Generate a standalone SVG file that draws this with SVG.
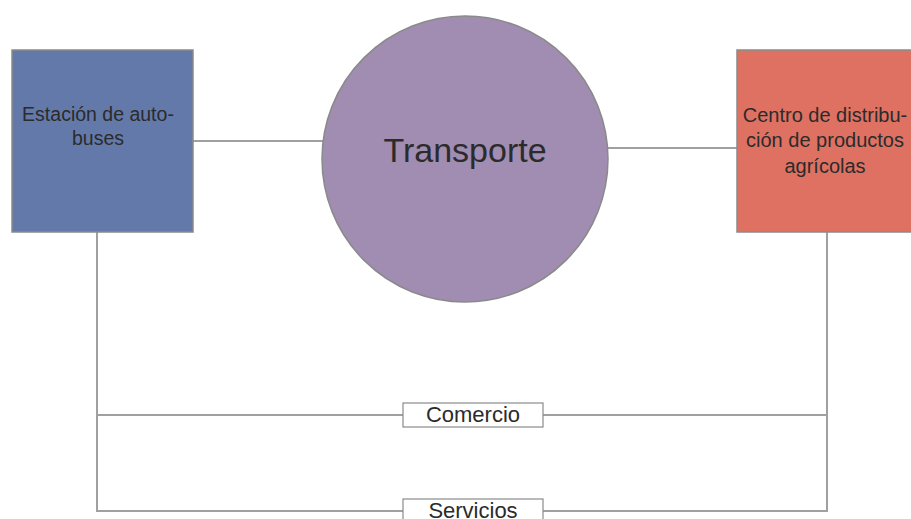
<svg xmlns="http://www.w3.org/2000/svg" width="911" height="519" viewBox="0 0 911 519">
<style>
.conn{stroke:#a0a0a0;stroke-width:2;fill:none}
.node{stroke:#8a8a8a;stroke-width:1.5}
.t{font-family:"Liberation Sans",Arial,sans-serif;fill:#2b2b2b;text-anchor:middle}
.lbl{fill:#ffffff;stroke:#8a8a8a;stroke-width:1.2}
</style>
<rect width="911" height="519" fill="#ffffff"/>
<g id="connectors">
<line class="conn" x1="193" y1="141" x2="323" y2="141"/>
<line class="conn" x1="607" y1="148" x2="737" y2="148"/>
<polyline class="conn" points="97,232 97,511 827,511 827,232"/>
<line class="conn" x1="97" y1="415" x2="827" y2="415"/>
</g>
<g id="estacion">
<rect class="node" x="12" y="50" width="181" height="182" fill="#6379A9"/>
<text class="t" x="98" y="121" font-size="19.5">Estación de auto-</text>
<text class="t" x="98" y="145" font-size="19.5">buses</text>
</g>
<g id="transporte">
<circle class="node" cx="465" cy="159" r="143" fill="#A18CB2"/>
<text class="t" x="465" y="162" font-size="34">Transporte</text>
</g>
<g id="centro">
<rect class="node" x="737" y="50" width="176" height="182" fill="#DF7163"/>
<text class="t" x="825" y="122" font-size="20">Centro de distribu-</text>
<text class="t" x="825" y="147" font-size="20">ción de productos</text>
<text class="t" x="825" y="173" font-size="20">agrícolas</text>
</g>
<g id="comercio">
<rect class="lbl" x="403" y="403" width="140" height="24"/>
<text class="t" x="473" y="422" font-size="22">Comercio</text>
</g>
<g id="servicios">
<rect class="lbl" x="403" y="499" width="140" height="26"/>
<text class="t" x="473" y="518" font-size="22">Servicios</text>
</g>
</svg>
